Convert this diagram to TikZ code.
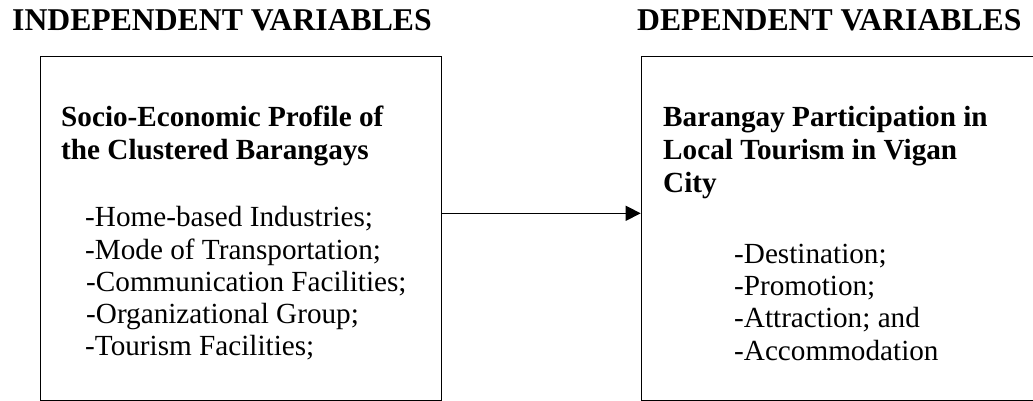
\documentclass[tikz,border=0pt]{standalone}
\usepackage{fontspec}
\setmainfont{Liberation Serif}
\usetikzlibrary{arrows.meta}
\begin{document}
\begin{tikzpicture}[x=1pt,y=-1pt,
  heading/.style={anchor=base west,inner sep=0pt,font=\fontsize{31.7}{36}\selectfont\bfseries},
  titleline/.style={anchor=base west,inner sep=0pt,font=\fontsize{29.2}{33.5}\selectfont\bfseries},
  itemline/.style={anchor=base west,inner sep=0pt,font=\fontsize{29.2}{33.5}\selectfont},
  varbox/.style={draw,line width=1.2pt,inner sep=0pt,anchor=north west},
  link/.style={line width=1.5pt,-{Triangle[length=15pt,width=15pt]}}]
  \useasboundingbox (0,0) rectangle (1033,401);
  \clip (0,0) rectangle (1033,401);

  % column headings
  \node[heading] (hind) at (12,31) {INDEPENDENT VARIABLES};
  \node[heading] (hdep) at (637,31) {DEPENDENT VARIABLES};

  % boxes (the right one runs past the page edge)
  \node[varbox,minimum width=401.2pt,minimum height=344pt] (lbox) at (39.5,55.7) {};
  \node[varbox,minimum width=500pt,minimum height=344pt] (rbox) at (640.7,55.7) {};

  % independent variables
  \node[titleline] (l1) at (61,126.5) {Socio-Economic Profile of};
  \node[titleline] (l2) at (61,159.5) {the Clustered Barangays};
  \node[itemline] (i1) at (85,226.7) {-Home-based Industries;};
  \node[itemline] (i2) at (85,259) {-Mode of Transportation;};
  \node[itemline] (i3) at (86,291.3) {-Communication Facilities;};
  \node[itemline] (i4) at (86,323.5) {-Organizational Group;};
  \node[itemline] (i5) at (85,355.7) {-Tourism Facilities;};

  % dependent variables
  \node[titleline] (r1) at (663,126.5) {Barangay Participation in};
  \node[titleline] (r2) at (663,159.5) {Local Tourism in Vigan};
  \node[titleline] (r3) at (663,192.5) {City};
  \node[itemline] (d1) at (734,263) {-Destination;};
  \node[itemline] (d2) at (734,295.3) {-Promotion;};
  \node[itemline] (d3) at (734,327.7) {-Attraction; and};
  \node[itemline] (d4) at (734,360) {-Accommodation};

  % influence arrow
  \draw[link] ([yshift=15pt]lbox.east) -- ([yshift=15pt]lbox.east -| rbox.west);
\end{tikzpicture}
\end{document}
